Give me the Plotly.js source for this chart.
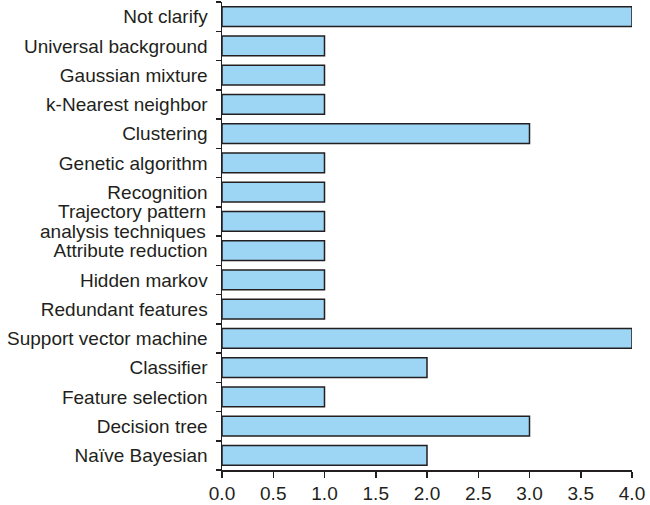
<!DOCTYPE html>
<html>
<head>
<meta charset="utf-8">
<script src="https://cdn.plot.ly/plotly-3.0.1.min.js"></script>
<style>html,body{margin:0;padding:0;background:#fff;}#chart{width:650px;height:505px;}</style>
</head>
<body>
<div id="chart"></div>
<script>
var categories = [
  "Not clarify",
  "Universal background",
  "Gaussian mixture",
  "k-Nearest neighbor",
  "Clustering",
  "Genetic algorithm",
  "Recognition",
  "Trajectory pattern analysis techniques",
  "Attribute reduction",
  "Hidden markov",
  "Redundant features",
  "Support vector machine",
  "Classifier",
  "Feature selection",
  "Decision tree",
  "Naïve Bayesian"
];
var counts = [4, 1, 1, 1, 3, 1, 1, 1, 1, 1, 1, 4, 2, 1, 3, 2];
var twoLineCategory = "Trajectory pattern analysis techniques";
var twoLineText = ["Trajectory pattern", "analysis techniques"];
var xTicks = [0, 0.5, 1, 1.5, 2, 2.5, 3, 3.5, 4];
var xTickText = ["0.0", "0.5", "1.0", "1.5", "2.0", "2.5", "3.0", "3.5", "4.0"];

var textColor = "#231f20";
var yTickText = categories.map(function (c) { return c === twoLineCategory ? "" : c; });
var annotations = twoLineText.map(function (t, i) {
  return {
    xref: "paper", x: 0, xanchor: "right", xshift: -14,
    yref: "y", y: twoLineCategory, yanchor: "middle", yshift: i === 0 ? 10 : -10,
    text: t, showarrow: false, font: {size: 19, color: textColor}
  };
});

Plotly.newPlot("chart", [{
  type: "bar",
  orientation: "h",
  y: categories,
  x: counts,
  width: 0.68,
  marker: {color: "#9dd6f5", line: {color: "#231f20", width: 1.5}},
  hoverinfo: "none"
}], {
  width: 650, height: 505,
  margin: {l: 222, r: 18, t: 2, b: 35, pad: 0},
  paper_bgcolor: "#fff", plot_bgcolor: "#fff",
  font: {family: "Liberation Sans, Arial, sans-serif", color: textColor, size: 19},
  showlegend: false,
  annotations: annotations,
  xaxis: {
    range: [0, 4], tickvals: xTicks, ticktext: xTickText,
    showline: true, linecolor: textColor, linewidth: 1.5,
    ticks: "outside", ticklen: 6, tickwidth: 1.5, tickcolor: textColor,
    showgrid: false, zeroline: false,
    tickfont: {size: 19}, ticklabelstandoff: 0
  },
  yaxis: {
    type: "category", autorange: "reversed",
    tickvals: categories, ticktext: yTickText,
    showline: true, linecolor: textColor, linewidth: 1.5,
    ticks: "outside", tickson: "boundaries", ticklen: 5, tickwidth: 1.5, tickcolor: textColor,
    showgrid: false, zeroline: false,
    tickfont: {size: 19}, ticklabelstandoff: 9
  }
}, {staticPlot: true});
</script>
</body>
</html>
